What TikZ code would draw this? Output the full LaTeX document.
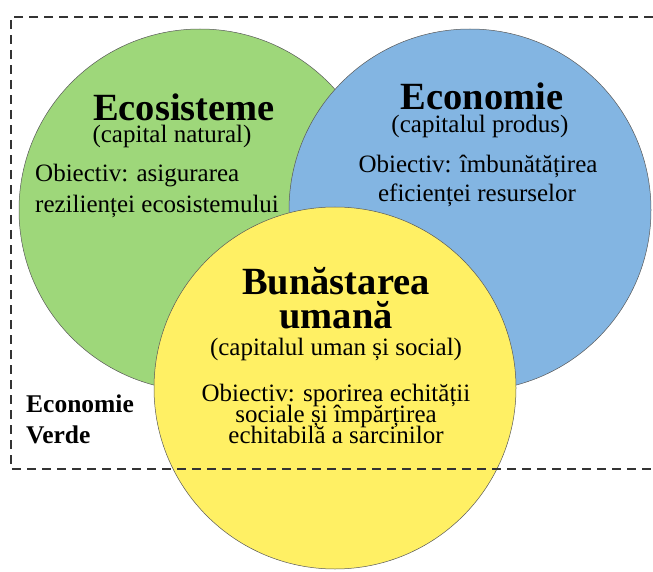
\documentclass[tikz,border=0pt]{standalone}
\usepackage{fontspec}
\setmainfont{Liberation Serif}
\definecolor{cgreen}{HTML}{9ED77A}
\definecolor{cblue}{HTML}{83B5E2}
\definecolor{cyellow}{HTML}{FFF064}
\definecolor{cline}{HTML}{333333}
\begin{document}
\begin{tikzpicture}[x=1pt,y=-1pt,
  circ/.style={circle, draw=black!65, line width=0.5pt, minimum size=362pt, inner sep=0pt},
  head/.style={font=\fontsize{38.5}{40}\selectfont\bfseries, anchor=base, inner sep=0pt, text height=26pt, text depth=2pt},
  body/.style={font=\fontsize{25}{26}\selectfont, anchor=base, inner sep=0pt, text height=16pt, text depth=4pt},
  bodyl/.style={body, anchor=base west},
  label/.style={font=\fontsize{25.5}{27}\selectfont\bfseries, anchor=base west, inner sep=0pt},
  frame/.style={draw=cline, line width=1.3pt, dash pattern=on 9pt off 6pt}]
\useasboundingbox (0,0) rectangle (653,572);
% circles
\node[circ, fill=cgreen] (eco) at (200,210) {};
\node[circ, fill=cblue] (econ) at (470,210) {};
\node[circ, fill=cyellow] (hum) at (335,388) {};
% green texts
\node[head] (t1) at (184,121) {Ecosisteme};
\node[body] (t2) at (172,143) {(capital natural)};
\node[bodyl] (t3) at (35,182) {Obiectiv: asigurarea};
\node[bodyl] (t4) at (35,212) {rezilienței ecosistemului};
% blue texts
\node[head] (b1) at (482,110) {Economie};
\node[body] (b2) at (480,133) {(capitalul produs)};
\node[body] (b3) at (478,173) {Obiectiv: îmbunătățirea};
\node[body] (b4) at (477,202) {eficienței resurselor};
% yellow texts
\node[head] (y1) at (336,294) {Bunăstarea};
\node[head] (y2) at (336,328) {umană};
\node[body] (y3) at (336,355) {(capitalul uman și social)};
\node[body] (y4) at (336,401) {Obiectiv: sporirea echității};
\node[body] (y5) at (336,422) {sociale și împărțirea};
\node[body] (y6) at (336,443) {echitabilă a sarcinilor};
% frame
\coordinate (fTR) at (653,17);
\coordinate (fTL) at (11,17);
\coordinate (fBL) at (11,469);
\coordinate (fBR) at (653,469);
\draw[frame] (fTR) -- (fTL) -- (fBL) -- (fBR);
\node[label] (g1) at (26,412) {Economie};
\node[label] (g2) at (26,443) {Verde};
\end{tikzpicture}
\end{document}
